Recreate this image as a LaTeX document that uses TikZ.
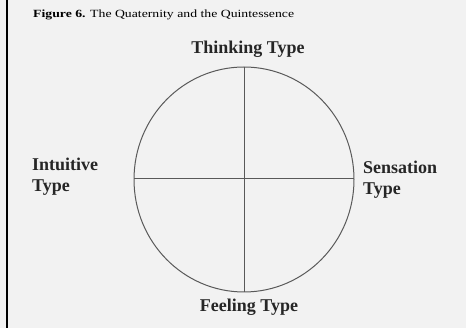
\documentclass[tikz,border=0pt]{standalone}
\usepackage{fontspec}
\setmainfont{Liberation Serif}
\begin{document}
\begin{tikzpicture}[x=1pt,y=-1pt,
  lbl/.style={font=\bfseries\fontsize{18}{21}\selectfont, text=black!85, inner sep=0pt},
  ln/.style={draw=black!65, line width=1pt}]
\fill[black!5] (0,0) rectangle (466,328);
\useasboundingbox (0,0) rectangle (466,328);
\draw[line width=1.6pt] (7,0) -- (7,328);
\node[anchor=west, inner sep=0pt, font=\fontsize{11}{12}\selectfont] (cap) at (33,15) {\scalebox{1.25}[1]{\textbf{Figure 6.} The Quaternity and the Quintessence}};
\draw[ln] (244,179.5) ellipse [x radius=110, y radius=112.5];
\coordinate (top) at (244,67);
\coordinate (bot) at (244,292);
\coordinate (lft) at (134,179);
\coordinate (rgt) at (354,179);
\draw[ln] (top) -- (bot);
\draw[ln] (lft) -- (rgt);
\node[lbl] (think) at (248,49) {Thinking Type};
\node[lbl] (feel) at (249,307) {Feeling Type};
\node[lbl, anchor=north west, align=left] (intu) at (32,158) {Intuitive\\Type};
\node[lbl, anchor=north west, align=left] (sens) at (363,161) {Sensation\\Type};
\end{tikzpicture}
\end{document}
